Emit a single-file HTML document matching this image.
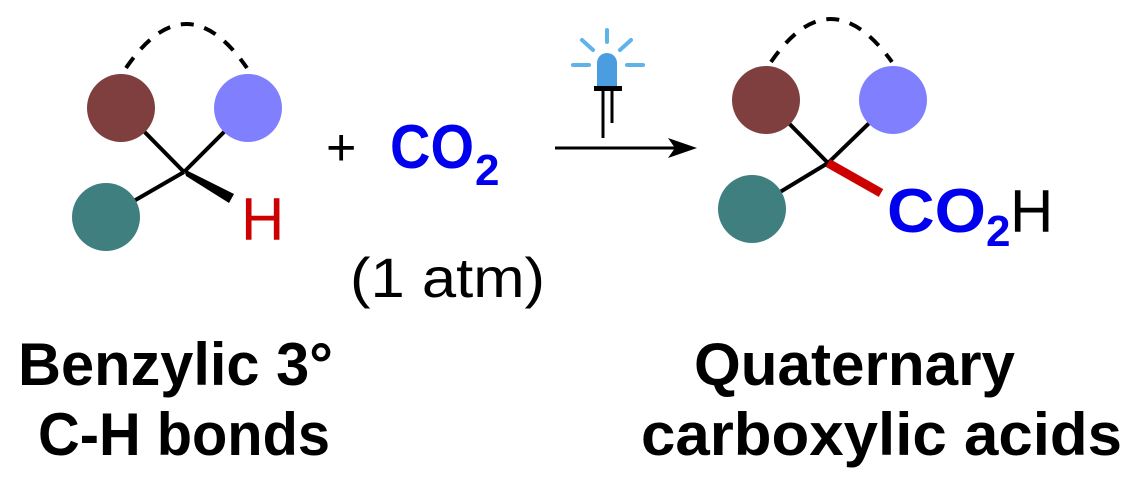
<!DOCTYPE html>
<html><head><style>html,body{margin:0;padding:0;background:#fff}svg{display:block}</style></head>
<body>
<svg width="1138" height="482" viewBox="0 0 1138 482" xmlns="http://www.w3.org/2000/svg" font-family="Liberation Sans, Arial, sans-serif">
<path d="M126,68 Q186,-20 247,68" fill="none" stroke="#000" stroke-width="4" stroke-dasharray="13,11"/>
<line x1="121" y1="108" x2="184" y2="172" stroke="#000" stroke-width="4"/>
<line x1="248" y1="108" x2="184" y2="172" stroke="#000" stroke-width="4"/>
<line x1="106" y1="217" x2="184" y2="172" stroke="#000" stroke-width="4"/>
<polygon points="184,169 186,176 229,203 234,194" fill="#000"/>
<circle cx="121" cy="108" r="34" fill="#7f3f3f"/>
<circle cx="248" cy="108" r="34" fill="#8080ff"/>
<circle cx="106" cy="217" r="34" fill="#407f7f"/>
<text x="241" y="240" font-size="60" fill="#cc0000">H</text>
<text x="326" y="165" font-size="52">+</text>
<text x="390" y="168" font-size="62" font-weight="bold" fill="#0000ee" textLength="84" lengthAdjust="spacingAndGlyphs">CO</text>
<text x="475" y="185" font-size="44" font-weight="bold" fill="#0000ee">2</text>
<text x="350" y="297" font-size="56" textLength="195" lengthAdjust="spacingAndGlyphs">(1 atm)</text>
<line x1="555" y1="148" x2="675" y2="148" stroke="#000" stroke-width="3"/>
<polygon points="697,148 668,138 675,148 668,158" fill="#000"/>
<g stroke="#5fb3e8" stroke-width="4" stroke-linecap="round">
<line x1="573" y1="65" x2="589" y2="65"/><line x1="627" y1="65" x2="643" y2="65"/>
<line x1="582" y1="40" x2="593" y2="50"/><line x1="631" y1="40" x2="620" y2="50"/>
<line x1="607" y1="30" x2="607" y2="42"/>
</g>
<path d="M597,87 V63 a10,10 0 0 1 20,0 V87 Z" fill="#4a9ee0"/>
<rect x="594" y="86" width="28" height="5" fill="#000"/>
<line x1="603" y1="91" x2="603" y2="138" stroke="#000" stroke-width="3"/>
<line x1="612" y1="91" x2="612" y2="123" stroke="#000" stroke-width="3"/>
<path d="M771,62 Q830,-24 892,62" fill="none" stroke="#000" stroke-width="4" stroke-dasharray="13,11"/>
<line x1="766" y1="100" x2="828" y2="163" stroke="#000" stroke-width="4"/>
<line x1="893" y1="100" x2="828" y2="163" stroke="#000" stroke-width="4"/>
<line x1="752" y1="209" x2="828" y2="163" stroke="#000" stroke-width="4"/>
<line x1="828" y1="163" x2="881" y2="193" stroke="#cc0000" stroke-width="9"/>
<circle cx="766" cy="100" r="34" fill="#7f3f3f"/>
<circle cx="893" cy="100" r="34" fill="#8080ff"/>
<circle cx="752" cy="209" r="34" fill="#407f7f"/>
<text x="887" y="232" font-size="62" font-weight="bold" fill="#0000ee" textLength="99" lengthAdjust="spacingAndGlyphs">CO</text>
<text x="986" y="246" font-size="44" font-weight="bold" fill="#0000ee">2</text>
<text x="1010" y="232" font-size="60">H</text>
<g font-weight="bold" font-size="60">
<text x="18" y="385" textLength="315" lengthAdjust="spacingAndGlyphs">Benzylic 3°</text>
<text x="38" y="455" textLength="292" lengthAdjust="spacingAndGlyphs">C-H bonds</text>
<text x="694" y="385" textLength="321" lengthAdjust="spacingAndGlyphs">Quaternary</text>
<text x="641" y="455" textLength="481" lengthAdjust="spacingAndGlyphs">carboxylic acids</text>
</g>
</svg>
</body></html>
